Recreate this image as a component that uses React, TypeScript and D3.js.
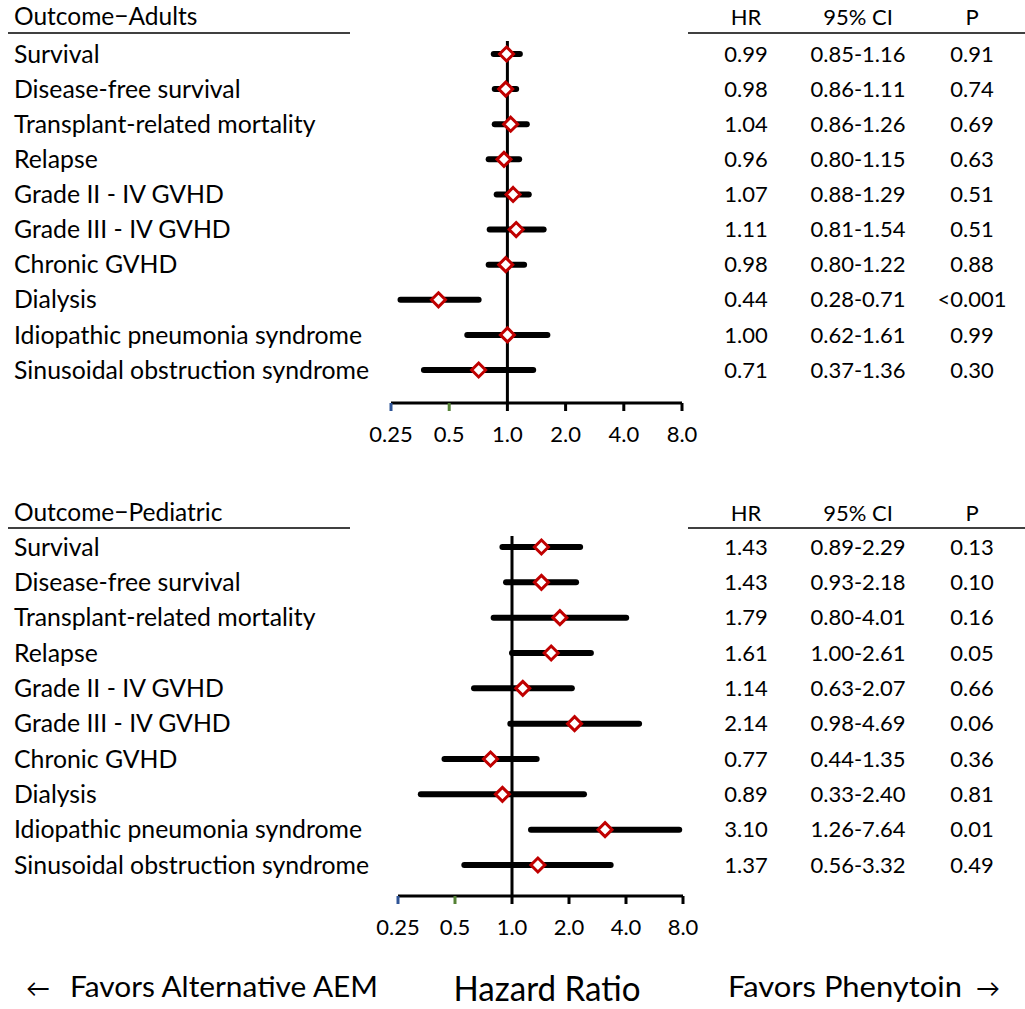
import React, { useEffect, useRef } from "react";
import * as d3 from "d3";

const outcomes = [
  "Survival",
  "Disease-free survival",
  "Transplant-related mortality",
  "Relapse",
  "Grade II - IV GVHD",
  "Grade III - IV GVHD",
  "Chronic GVHD",
  "Dialysis",
  "Idiopathic pneumonia syndrome",
  "Sinusoidal obstruction syndrome",
];

const adultHR = [0.99, 0.98, 1.04, 0.96, 1.07, 1.11, 0.98, 0.44, 1.0, 0.71];
const adultLow = [0.85, 0.86, 0.86, 0.8, 0.88, 0.81, 0.8, 0.28, 0.62, 0.37];
const adultHigh = [1.16, 1.11, 1.26, 1.15, 1.29, 1.54, 1.22, 0.71, 1.61, 1.36];
const adultP = ["0.91", "0.74", "0.69", "0.63", "0.51", "0.51", "0.88", "<0.001", "0.99", "0.30"];

const pedHR = [1.43, 1.43, 1.79, 1.61, 1.14, 2.14, 0.77, 0.89, 3.1, 1.37];
const pedLow = [0.89, 0.93, 0.8, 1.0, 0.63, 0.98, 0.44, 0.33, 1.26, 0.56];
const pedHigh = [2.29, 2.18, 4.01, 2.61, 2.07, 4.69, 1.35, 2.4, 7.64, 3.32];
const pedP = ["0.13", "0.10", "0.16", "0.05", "0.66", "0.06", "0.36", "0.81", "0.01", "0.49"];

const tickValues = [0.25, 0.5, 1, 2, 4, 8];
const tickLabels = ["0.25", "0.5", "1.0", "2.0", "4.0", "8.0"];

const FONT = "Lato, 'Open Sans', sans-serif";

export default function App() {
  const ref = useRef<SVGSVGElement | null>(null);

  useEffect(() => {
    const svg = d3.select(ref.current);
    svg.selectAll("*").remove();

    const drawPanel = (cfg: any) => {
      const g = svg.append("g");
      const x = d3.scaleLog().base(2).domain([0.25, 8]).range(cfg.xRange);
      const y = d3.scalePoint().domain(outcomes).range(cfg.yRange);

      // headers
      g.append("text").attr("x", 14).attr("y", cfg.headY)
        .style("font-size", "24.5px").text(cfg.title);
      g.append("line").attr("x1", 8).attr("x2", 350)
        .attr("y1", cfg.lineY).attr("y2", cfg.lineY)
        .attr("stroke", "#000").attr("stroke-width", 1.5);
      g.append("line").attr("x1", 688).attr("x2", 1025)
        .attr("y1", cfg.lineY).attr("y2", cfg.lineY)
        .attr("stroke", "#000").attr("stroke-width", 1.5);
      [["HR", 746], ["95% CI", 858], ["P", 972]].forEach(([t, cx]) => {
        g.append("text").attr("x", cx).attr("y", cfg.headY)
          .attr("text-anchor", "middle").text(t as string);
      });

      // reference line at 1.0
      g.append("line")
        .attr("x1", x(1)).attr("x2", x(1))
        .attr("y1", cfg.lineY + 8).attr("y2", cfg.axisY)
        .attr("stroke", "#000").attr("stroke-width", 3);

      // axis
      g.append("line").attr("x1", x(0.25)).attr("x2", x(8))
        .attr("y1", cfg.axisY).attr("y2", cfg.axisY)
        .attr("stroke", "#000").attr("stroke-width", 3);
      g.selectAll(".tick").data(tickValues).enter().append("line")
        .attr("x1", d => x(d)).attr("x2", d => x(d))
        .attr("y1", cfg.axisY).attr("y2", cfg.axisY + 8)
        .attr("stroke", (d, i) => (i === 0 ? "#2f5597" : i === 1 ? "#548235" : "#000"))
        .attr("stroke-width", 3);
      g.selectAll(".ticklab").data(tickValues).enter().append("text")
        .attr("x", d => x(d)).attr("y", cfg.axisY + 39)
        .attr("text-anchor", "middle")
        .text((d, i) => tickLabels[i]);

      outcomes.forEach((o, i) => {
        const cy = y(o) as number;
        g.append("text").attr("x", 14).attr("y", cy).attr("dy", "0.35em")
          .style("font-size", "24.8px").text(o);
        g.append("line")
          .attr("x1", x(cfg.low[i])).attr("x2", x(cfg.high[i]))
          .attr("y1", cy).attr("y2", cy)
          .attr("stroke", "#000").attr("stroke-width", 6).attr("stroke-linecap", "round");
        const hx = x(cfg.hr[i]);
        const r = 7;
        g.append("path")
          .attr("d", `M${hx},${cy - r}L${hx + r},${cy}L${hx},${cy + r}L${hx - r},${cy}Z`)
          .attr("fill", "#fff").attr("stroke", "#c00000").attr("stroke-width", 3);
        g.append("text").attr("x", 746).attr("y", cy).attr("dy", "0.35em")
          .attr("text-anchor", "middle").text(cfg.hr[i].toFixed(2));
        g.append("text").attr("x", 858).attr("y", cy).attr("dy", "0.35em")
          .attr("text-anchor", "middle")
          .text(`${cfg.low[i].toFixed(2)}-${cfg.high[i].toFixed(2)}`);
        g.append("text").attr("x", 972).attr("y", cy).attr("dy", "0.35em")
          .attr("text-anchor", "middle").text(cfg.p[i]);
      });
    };

    drawPanel({
      title: "Outcome\u2212Adults", headY: 25, lineY: 33,
      xRange: [391, 682], yRange: [54, 370], axisY: 403,
      hr: adultHR, low: adultLow, high: adultHigh, p: adultP,
    });
    drawPanel({
      title: "Outcome\u2212Pediatric", headY: 521, lineY: 528,
      xRange: [398, 683], yRange: [547, 865], axisY: 896,
      hr: pedHR, low: pedLow, high: pedHigh, p: pedP,
    });

    const bottom = svg.append("g").style("font-size", "29px");
    bottom.append("text").attr("x", 26).attr("y", 997).style("font-size", "24px").text("\u2190");
    bottom.append("text").attr("x", 70).attr("y", 997)
      .attr("textLength", 308).attr("lengthAdjust", "spacingAndGlyphs")
      .text("Favors Alternative AEM");
    bottom.append("text").attr("x", 547).attr("y", 1001)
      .attr("text-anchor", "middle").style("font-size", "35px")
      .attr("textLength", 187).attr("lengthAdjust", "spacingAndGlyphs")
      .text("Hazard Ratio");
    bottom.append("text").attr("x", 728).attr("y", 997)
      .attr("textLength", 234).attr("lengthAdjust", "spacingAndGlyphs")
      .text("Favors Phenytoin");
    bottom.append("text").attr("x", 976).attr("y", 997).style("font-size", "24px").text("\u2192");
  }, []);

  return (
    <svg
      ref={ref}
      width={1025}
      height={1009}
      style={{ position: "absolute", left: 0, top: 0, background: "#fff", fontFamily: FONT, fontSize: 22 }}
    />
  );
}
